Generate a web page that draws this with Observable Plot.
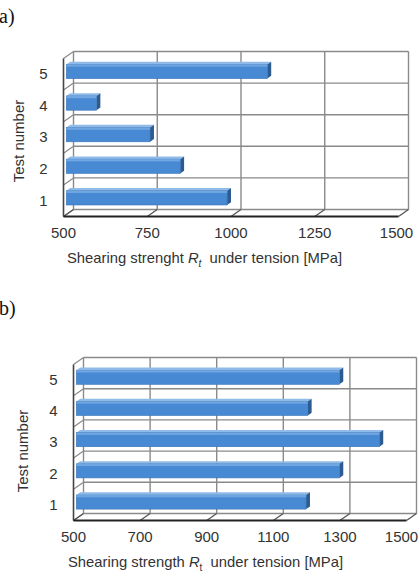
<!DOCTYPE html>
<html>
<head>
<meta charset="utf-8">
<script src="https://cdn.jsdelivr.net/npm/d3@7"></script>
<script src="https://cdn.jsdelivr.net/npm/@observablehq/plot@0.6"></script>
<style>
  body { margin: 0; background: #fff; }
  #page { position: relative; width: 419px; height: 585px; overflow: hidden;
          font-family: "Liberation Sans", Arial, sans-serif; color: #333; }
  .panel { position: absolute; left: 0; }
  .tag { position: absolute; font-family: "Liberation Serif", "Times New Roman", serif;
         font-size: 20px; line-height: 1; color: #111; }
  .ytitle { position: absolute; font-size: 15px; line-height: 1; white-space: nowrap;
            transform: translate(-50%, -50%) rotate(-90deg); }
  .xtitle { position: absolute; font-size: 14.8px; line-height: 16px; white-space: nowrap; }
</style>
</head>
<body>
<div id="page"></div>
<script>
// Test numbers and measured shearing strength under tension [MPa]
const tests = [1, 2, 3, 4, 5];
const strengthA = [980, 840, 750, 590, 1100];
const strengthB = [1190, 1290, 1410, 1195, 1290];
const ticksA = [500, 750, 1000, 1250, 1500];
const ticksB = [500, 700, 900, 1100, 1300, 1500];

const page = document.getElementById("page");

// Draws one pseudo-3D bar chart (Excel style): back wall, side wall, floor and prism bars.
// Depth is expressed in data units (dX along strength, dY along test number).
function drawPanel({values, ticks, top, height, left, right, floor, ceiling, depth, lastShift}) {
  const width = 419;
  const k = (right - left) / (ticks[ticks.length - 1] - ticks[0]);
  const x0 = ticks[0], x1 = ticks[ticks.length - 1];
  const dX = depth[0] / k;
  const band = (floor - depth[1] - ceiling) / tests.length;
  const dY = depth[1] / band;
  const bounds = d3.range(0.5, tests.length + 1, 1);

  const rows = tests.map((t, i) => ({t, v: values[i]}));
  const f1 = 0.33, f2 = 0.72, h = 0.225;

  const faces = rows.map(d => ({
    t: d.t,
    xa: x0 + f1 * dX, xb: d.v + f1 * dX,
    ya: d.t - h + f1 * dY, yb: d.t + h + f1 * dY
  }));
  const caps = rows.flatMap(d => [f1, f2].map(f => ({
    id: d.t, x: d.v + f * dX, lo: d.t - h + f * dY, hi: d.t + h + f * dY
  })));
  const tops = rows.flatMap(d => [f1, f2].map(f => ({
    id: d.t, y: d.t + h + f * dY, a: x0 + f * dX, b: d.v + f * dX
  })));

  const grid = "#8a8a8a";
  const fmt = d => String(d);
  const plot = Plot.plot({
    width, height,
    marginLeft: left, marginRight: width - right - depth[0],
    marginTop: ceiling, marginBottom: height - floor,
    x: {domain: [x0, x1 + dX], range: [left, right + depth[0]]},
    y: {domain: [0.5, tests.length + 0.5 + dY], range: [floor, ceiling]},
    style: {fontFamily: "'Liberation Sans', Arial, sans-serif", fontSize: "15px", color: "#333", background: "none"},
    marks: [
      // back wall
      Plot.link(bounds, {x1: x0 + dX, x2: x1 + dX, y1: b => b + dY, y2: b => b + dY, stroke: grid, strokeWidth: 1.4}),
      Plot.link(ticks, {x1: t => t + dX, x2: t => t + dX, y1: 0.5 + dY, y2: tests.length + 0.5 + dY, stroke: grid, strokeWidth: 1.4}),
      // side wall
      Plot.link(bounds, {x1: x0, x2: x0 + dX, y1: b => b, y2: b => b + dY, stroke: grid, strokeWidth: 1.2}),
      Plot.link([x0], {x1: x0, x2: x0, y1: 0.5, y2: tests.length + 0.5, stroke: "#444", strokeWidth: 1.6}),
      // floor
      Plot.link(ticks, {x1: t => t, x2: t => t + dX, y1: 0.5, y2: 0.5 + dY, stroke: "#555", strokeWidth: 1.3}),
      Plot.link([x0], {x1: x0, x2: x1, y1: 0.5, y2: 0.5, stroke: "#222", strokeWidth: 2}),
      // bars: top face, end cap, front face
      Plot.areaX(tops, {y: "y", x1: "a", x2: "b", z: "id", fill: "#8fbbe8"}),
      Plot.areaY(caps, {x: "x", y1: "lo", y2: "hi", z: "id", fill: "#2c5b90"}),
      Plot.rect(faces, {x1: "xa", x2: "xb", y1: "ya", y2: "yb", fill: "#4889d3", stroke: "#3a74b8", strokeWidth: 0.6}),
      Plot.rect(faces, {x1: "xa", x2: "xb", y1: d => d.yb - 0.07, y2: "yb", fill: "#7aaee6", fillOpacity: 0.8}),
      // axes
      Plot.axisY({ticks: tests, tickSize: 0, tickPadding: 16, label: null, tickFormat: fmt}),
      Plot.axisX({ticks: ticks.slice(0, -1), tickSize: 0, tickPadding: 11, label: null, tickFormat: fmt}),
      Plot.axisX({ticks: ticks.slice(-1), tickSize: 0, tickPadding: 11, label: null, tickFormat: fmt, dx: -lastShift})
    ]
  });
  plot.classList.add("panel");
  plot.style.top = top + "px";
  page.appendChild(plot);
}

drawPanel({values: strengthA, ticks: ticksA, top: 0, height: 245,
           left: 63, right: 398, floor: 216, ceiling: 51, depth: [10, 7], lastShift: 2});
drawPanel({values: strengthB, ticks: ticksB, top: 300, height: 245,
           left: 73, right: 406, floor: 220, ceiling: 57, depth: [10, 7], lastShift: 5});

function addText(cls, html, left, top) {
  const el = document.createElement("div");
  el.className = cls;
  el.innerHTML = html;
  el.style.left = left + "px";
  el.style.top = top + "px";
  page.appendChild(el);
}
addText("tag", "a)", -1, 6);
addText("tag", "b)", -1, 298);
addText("ytitle", "Test number", 18, 141);
addText("ytitle", "Test number", 22, 451);
addText("xtitle", "Shearing strenght <i>R<sub style=\"font-size:10px\">t</sub></i>&nbsp; under tension [MPa]", 67, 250);
addText("xtitle", "Shearing strength <i>R</i><sub style=\"font-size:10px\">t</sub>&nbsp; under tension [MPa]", 68, 554);
</script>
</body>
</html>
